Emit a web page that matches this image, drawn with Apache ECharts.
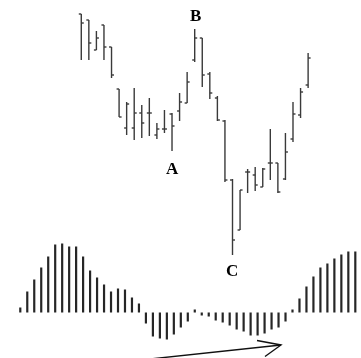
<!DOCTYPE html>
<html>
<head>
<meta charset="utf-8">
<script src="https://cdn.jsdelivr.net/npm/echarts@6/dist/echarts.min.js"></script>
<style>
html,body{margin:0;padding:0;background:#fff;}
#chart{width:361px;height:358px;}
</style>
</head>
<body>
<div id="chart"></div>
<script>
// Price bars (arbitrary price units)
var barOpen  = [286,280,250,275,253,211,172,172,187,187,165,171,186,189,197,240,262,226,202,179,120, 70,128,125,113,137,137,121,161,185,215];
var barHigh  = [286,280,269,275,253,211,198,212,195,202,177,190,187,207,228,271,262,228,204,180,121,110,131,133,132,171,137,167,198,212,247];
var barLow   = [240,240,250,240,222,183,165,160,162,164,161,167,149,179,197,238,213,201,179,118, 45, 70,107,109,113,120,107,120,158,182,212];
var barClose = [277,257,262,253,225,183,196,187,177,187,171,171,174,198,218,262,225,207,180,120, 60,110,128,115,131,137,108,148,186,208,242];

// Oscillator histogram
var histValues = [5,21,33,45,56,68,69,66,66,56,42,35,28,21,24,23,15,9,-11,-24,-26,-27,-22,-15,-9,3,-3,-4,-8,-10,-13,-17,-19,-23,-23,-21,-17,-15,-9,3,14,26,36,45,49,54,58,61,61];

var barCats = barOpen.map(function(_, i){ return i; });
var histCats = histValues.map(function(_, i){ return i; });
var ohlcData = barOpen.map(function(o, i){ return [i, o, barHigh[i], barLow[i], barClose[i]]; });

var chart = echarts.init(document.getElementById('chart'), null, {renderer:'canvas'});
var stroke = '#3a3a3a';
var option = {
  animation: false,
  backgroundColor: '#ffffff',
  grid: [
    {left: 77.5, width: 234.4, top: 0, height: 300},
    {left: 16.8, width: 342, top: 240, height: 110}
  ],
  xAxis: [
    {type:'category', data: barCats, gridIndex:0, show:false, boundaryGap:true},
    {type:'category', data: histCats, gridIndex:1, show:false, boundaryGap:true}
  ],
  yAxis: [
    {type:'value', gridIndex:0, min:0, max:300, show:false},
    {type:'value', gridIndex:1, min:-37.5, max:72.5, show:false}
  ],
  series: [
    {
      type:'custom', xAxisIndex:0, yAxisIndex:0, data: ohlcData,
      encode:{x:0, y:[1,2,3,4]},
      renderItem: function(params, api){
        var x = api.value(0);
        var pH = api.coord([x, api.value(2)]);
        var pL = api.coord([x, api.value(3)]);
        var pO = api.coord([x, api.value(1)]);
        var pC = api.coord([x, api.value(4)]);
        var st = {stroke: stroke, lineWidth: 1.4};
        return {type:'group', children:[
          {type:'line', shape:{x1:pH[0], y1:pH[1], x2:pL[0], y2:pL[1]}, style: st},
          {type:'line', shape:{x1:pO[0]-2.5, y1:pO[1], x2:pO[0], y2:pO[1]}, style: st},
          {type:'line', shape:{x1:pC[0], y1:pC[1], x2:pC[0]+2.5, y2:pC[1]}, style: st}
        ]};
      }
    },
    {
      type:'bar', xAxisIndex:1, yAxisIndex:1, data: histValues,
      barWidth: 2.2, itemStyle:{color:'#262626'}
    }
  ],
  graphic: [
    {type:'text', left:166, top:161, style:{text:'A', font:'bold 17px "Liberation Serif", serif', fill:'#000'}},
    {type:'text', left:190, top:8, style:{text:'B', font:'bold 17px "Liberation Serif", serif', fill:'#000'}},
    {type:'text', left:226, top:263, style:{text:'C', font:'bold 17px "Liberation Serif", serif', fill:'#000'}},
    {type:'polyline', shape:{points:[[150,359],[281,345]]}, style:{stroke:'#111', lineWidth:1.4, fill:null}},
    {type:'polyline', shape:{points:[[257,340.5],[281,345],[265,356.5]]}, style:{stroke:'#111', lineWidth:1.4, fill:null}}
  ]
};
chart.setOption(option);
</script>
</body>
</html>
